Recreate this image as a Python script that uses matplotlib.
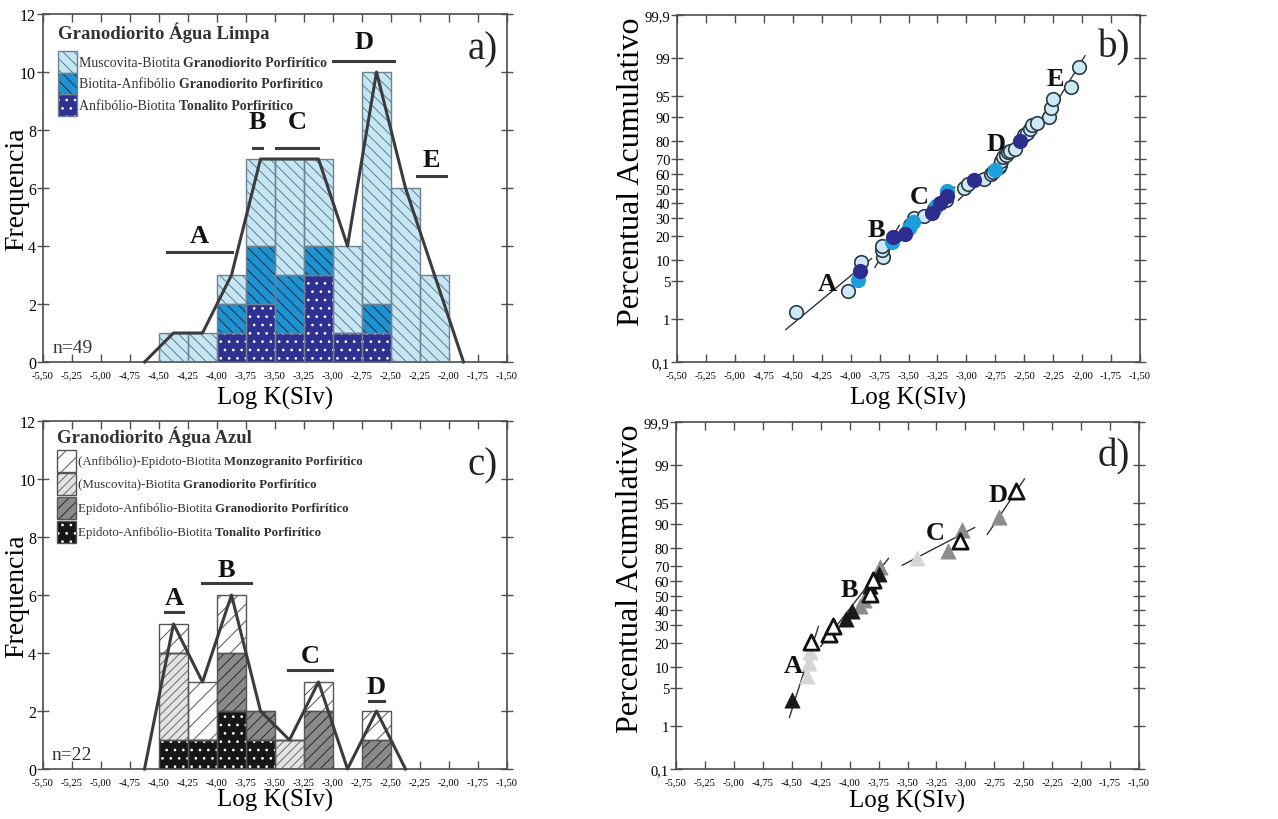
import math
import numpy as np
import matplotlib
matplotlib.use('Agg')
import matplotlib.pyplot as plt
from matplotlib.patches import Rectangle
from matplotlib.ticker import FixedLocator, NullLocator

plt.rcParams['font.family'] = ['Liberation Serif', 'DejaVu Serif']
plt.rcParams['hatch.linewidth'] = 0.7

# ---------------- data ----------------
x_ticks = [-5.50, -5.25, -5.00, -4.75, -4.50, -4.25, -4.00, -3.75, -3.50,
           -3.25, -3.00, -2.75, -2.50, -2.25, -2.00, -1.75, -1.50]
x_ticklabels = ['-5,50', '-5,25', '-5,00', '-4,75', '-4,50', '-4,25', '-4,00', '-3,75', '-3,50',
                '-3,25', '-3,00', '-2,75', '-2,50', '-2,25', '-2,00', '-1,75', '-1,50']
freq_ticks = [0, 2, 4, 6, 8, 10, 12]
prob_ticks = [0.1, 1, 5, 10, 20, 30, 40, 50, 60, 70, 80, 90, 95, 99, 99.9]
prob_ticklabels = ['0,1', '1', '5', '10', '20', '30', '40', '50', '60', '70', '80', '90', '95', '99', '99,9']

# panel a - Granodiorito Agua Limpa (bin left edges, width 0.25)
a_left = [-4.50, -4.25, -4.00, -3.75, -3.50, -3.25, -3.00, -2.75, -2.50, -2.25]
a_tonalito = [0, 0, 1, 2, 1, 3, 1, 1, 0, 0]
a_bioanf = [0, 0, 1, 2, 2, 1, 0, 1, 0, 0]
a_musc = [1, 1, 1, 3, 4, 3, 3, 8, 6, 3]
a_labels = ['Muscovita-Biotita ', 'Biotita-Anfibólio ', 'Anfibólio-Biotita ']
a_bold = ['Granodiorito Porfirítico', 'Granodiorito Porfirítico', 'Tonalito Porfirítico']

# panel c - Granodiorito Agua Azul
c_left = [-4.50, -4.25, -4.00, -3.75, -3.50, -3.25, -3.00, -2.75]
c_tonalito = [1, 1, 2, 1, 0, 0, 0, 0]
c_muscgran = [3, 0, 0, 0, 1, 0, 0, 0]
c_epigran = [0, 0, 2, 1, 0, 2, 0, 1]
c_monzo = [1, 2, 2, 0, 0, 1, 0, 1]
c_labels = ['(Anfibólio)-Epidoto-Biotita ', '(Muscovita)-Biotita ',
            'Epidoto-Anfibólio-Biotita ', 'Epidoto-Anfibólio-Biotita ']
c_bold = ['Monzogranito Porfirítico', 'Granodiorito Porfirítico',
          'Granodiorito Porfirítico', 'Tonalito Porfirítico']

# panel b - cumulative probability (group: 0 musc, 1 bio-anf, 2 tonalito)
b_x = [-4.47, -4.02, -3.94, -3.92, -3.91, -3.72, -3.73, -3.73, -3.64, -3.63,
       -3.53, -3.50, -3.49, -3.46, -3.45, -3.37, -3.30, -3.28, -3.26, -3.23,
       -3.18, -3.17, -3.17, -3.02, -2.99, -2.93, -2.85, -2.79, -2.77, -2.75,
       -2.72, -2.71, -2.70, -2.68, -2.66, -2.64, -2.62, -2.58, -2.54, -2.50,
       -2.48, -2.45, -2.43, -2.39, -2.29, -2.27, -2.25, -2.10, -2.03]
b_p = [1.4, 3.4, 5.2, 7.0, 9.5, 11.1, 13.5, 15.3, 17.0, 19.4,
       21.0, 24.0, 26.0, 27.5, 30.0, 31.0, 33.0, 36.0, 38.0, 40.0,
       42.0, 45.0, 48.0, 50.5, 53.5, 56.0, 57.0, 60.5, 61.5, 63.0,
       65.0, 66.5, 69.0, 71.0, 72.5, 74.0, 75.0, 76.0, 80.0, 83.0,
       84.0, 85.5, 87.0, 88.0, 90.0, 92.5, 94.5, 96.5, 98.5]
b_group = [0, 0, 1, 2, 0, 0, 0, 0, 1, 2,
           2, 1, 0, 1, 0, 0, 2, 0, 1, 2,
           0, 2, 1, 0, 0, 2, 0, 0, 0, 1,
           0, 0, 0, 0, 0, 0, 0, 0, 2, 0,
           0, 0, 0, 0, 0, 0, 0, 0, 0]
b_fits = [((-4.56, 0.6), (-3.82, 10.6)), ((-3.79, 8.0), (-3.58, 25.6)),
          ((-3.57, 17.3), (-3.10, 51.0)), ((-3.07, 41.7), (-2.51, 82.0)),
          ((-2.35, 86.5), (-1.975, 99.1))]

# panel d (group: 0 tonalito, 1 musc gran, 2 epi gran, 3 monzogranito)
d_x = [-4.50, -4.37, -4.35, -4.34, -4.33, -4.18, -4.14, -4.03, -3.98, -3.91, -3.88,
       -3.82, -3.82, -3.80, -3.75, -3.74, -3.42, -3.15, -3.05, -3.03, -2.71, -2.56]
d_p = [3.1, 7.7, 11.5, 15.9, 20.6, 24.8, 29.5, 34.0, 38.8, 42.8, 47.0,
       51.4, 56.4, 61.0, 65.0, 69.5, 74.6, 78.7, 83.5, 88.0, 92.0, 96.9]
d_group = [0, 1, 1, 1, 3, 3, 3, 0, 0, 2, 2, 3, 0, 3, 0, 2, 1, 2, 3, 2, 2, 3]
d_fits = [((-4.52, 1.5), (-4.27, 29.0)), ((-4.25, 18.2), (-3.665, 74.5)),
          ((-3.545, 70.5), (-2.92, 88.7)), ((-2.81, 86.2), (-2.49, 98.1))]


# ---------------- normal probability scale ----------------
_A = [-3.969683028665376e+01, 2.209460984245205e+02, -2.759285104469687e+02,
      1.383577518672690e+02, -3.066479806614716e+01, 2.506628277459239e+00]
_B = [-5.447609879822406e+01, 1.615858368580409e+02, -1.556989798598866e+02,
      6.680131188771972e+01, -1.328068155288572e+01]
_C = [-7.784894002430293e-03, -3.223964580411365e-01, -2.400758277161838e+00,
      -2.549732539343734e+00, 4.374664141464968e+00, 2.938163982698783e+00]
_D = [7.784695709041462e-03, 3.224671290700398e-01, 2.445134137142996e+00,
      3.754408661907416e+00]


def _ppf(p):
    p = np.clip(np.asarray(p, dtype=float), 1e-12, 1 - 1e-12)
    shp = p.shape
    p = np.atleast_1d(p).ravel()
    out = np.empty_like(p)
    plow = 0.02425
    lo = p < plow
    hi = p > 1 - plow
    mid = ~(lo | hi)
    if lo.any():
        q = np.sqrt(-2 * np.log(p[lo]))
        out[lo] = (((((_C[0]*q+_C[1])*q+_C[2])*q+_C[3])*q+_C[4])*q+_C[5]) / \
                  ((((_D[0]*q+_D[1])*q+_D[2])*q+_D[3])*q+1)
    if hi.any():
        q = np.sqrt(-2 * np.log(1 - p[hi]))
        out[hi] = -(((((_C[0]*q+_C[1])*q+_C[2])*q+_C[3])*q+_C[4])*q+_C[5]) / \
                  ((((_D[0]*q+_D[1])*q+_D[2])*q+_D[3])*q+1)
    if mid.any():
        q = p[mid] - 0.5
        r = q * q
        out[mid] = (((((_A[0]*r+_A[1])*r+_A[2])*r+_A[3])*r+_A[4])*r+_A[5])*q / \
                   (((((_B[0]*r+_B[1])*r+_B[2])*r+_B[3])*r+_B[4])*r+1)
    return out.reshape(shp)


_erf = np.vectorize(math.erf, otypes=[float])


def prob_fwd(pct):
    return _ppf(np.asarray(pct, dtype=float) / 100.0)


def prob_inv(z):
    z = np.asarray(z, dtype=float)
    return 50.0 * (1.0 + _erf(z / math.sqrt(2.0)))


# ---------------- figure ----------------
fig = plt.figure(figsize=(12.78, 8.20), dpi=100)
W, H = 1278.0, 820.0


def add_axes(l, t, r, b):
    return fig.add_axes([l / W, 1 - b / H, (r - l) / W, (b - t) / H])


ax_a = add_axes(43, 15, 507, 363)
ax_b = add_axes(677, 16, 1140, 363)
ax_c = add_axes(43, 422, 507, 770)
ax_d = add_axes(676, 423, 1139, 770)
for _ax in (ax_c, ax_d):
    _ax.patch.set_visible(False)

SPINE = '#4d4d4d'
LINE = '#3c3c3c'


def style_axes(ax, prob=False, xlabelpad=4):
    for s in ax.spines.values():
        s.set_color(SPINE)
        s.set_linewidth(1.2)
    ax.set_xlim(-5.5, -1.5)
    ax.set_xticks(x_ticks)
    ax.set_xticklabels(x_ticklabels, fontsize=7.6)
    ax.tick_params(axis='x', direction='in', length=6, width=1, color=SPINE,
                   top=True, bottom=True, pad=6)
    ax.tick_params(axis='y', direction='inout', length=8, width=1, color=SPINE,
                   right=True, left=True, pad=1)
    ax.set_xlabel('Log K(SIv)', fontsize=18, labelpad=xlabelpad)
    axw = ax.get_position().width * W
    if prob:
        ax.set_yscale('function', functions=(prob_fwd, prob_inv))
        ax.set_ylim(0.1, 99.9)
        ax.yaxis.set_major_locator(FixedLocator(prob_ticks))
        ax.yaxis.set_minor_locator(NullLocator())
        ax.set_yticklabels(prob_ticklabels, fontsize=10.5)
        ax.set_ylabel('Percentual Acumulativo', fontsize=23)
        ax.yaxis.set_label_coords(-31.0 / axw, 0.55)
    else:
        ax.set_ylim(0, 12)
        ax.set_yticks(freq_ticks)
        ax.set_yticklabels([str(v) for v in freq_ticks], fontsize=11.5)
        ax.set_ylabel('Frequencia', fontsize=20)
        ax.yaxis.set_label_coords(-13.5 / axw, 0.5)


def stacked(ax, left, layers, styles, outline):
    bottom = np.zeros(len(left))
    for vals, (fc, hc, hatch) in zip(layers, styles):
        vals = np.asarray(vals, dtype=float)
        ax.bar(left, vals, width=0.25, bottom=bottom, align='edge', color=fc,
               edgecolor=hc, hatch=hatch, linewidth=0, zorder=2)
        ax.bar(left, vals, width=0.25, bottom=bottom, align='edge', fill=False,
               edgecolor=outline, linewidth=1.0, zorder=3)
        bottom = bottom + vals
    return bottom


def polygon(ax, left, totals):
    centers = [l + 0.125 for l in left]
    xs = [left[0] - 0.125] + centers + [centers[-1] + 0.25]
    ys = [0] + list(totals) + [0]
    ax.plot(xs, ys, color=LINE, lw=2.2, zorder=5, clip_on=False)


def legend_block(ax, title, tx, ty, rows_y, styles, labels, bolds, fs, tfs, outline):
    ax.text(tx, ty, title, transform=ax.transAxes, fontsize=tfs, fontweight='bold',
            color='#333333', va='center', ha='left')
    pw, ph = 0.041, 0.062
    for yy, (fc, hc, hatch), lab, bd in zip(rows_y, styles, labels, bolds):
        ax.add_patch(Rectangle((tx, yy - ph / 2), pw, ph, transform=ax.transAxes,
                               facecolor=fc, edgecolor=hc, hatch=hatch, linewidth=0, zorder=6))
        ax.add_patch(Rectangle((tx, yy - ph / 2), pw, ph, transform=ax.transAxes,
                               fill=False, edgecolor=outline, linewidth=1.0, zorder=7))
        t = ax.text(tx + pw + 0.004, yy, lab, transform=ax.transAxes, fontsize=fs,
                    color='#333333', va='center', ha='left')
        ax.annotate(bd, xy=(1, 0.5), xycoords=t, fontsize=fs, fontweight='bold',
                    color='#333333', va='center', ha='left')


def group_marks(ax, segs, letters):
    for (x0, x1, y), (lx, ly, s) in zip(segs, letters):
        ax.plot([x0, x1], [y, y], color=LINE, lw=2.2, zorder=5)
        ax.text(lx, ly, s, fontsize=19, fontweight='bold', ha='center', va='center',
                color='#111111', zorder=6)


# ---- panel a ----
style_axes(ax_a, xlabelpad=5)
styles_a = [('#2e3192', 'white', '..'), ('#1d93d1', '#1b2a4a', '\\\\\\'),
            ('#c7e6f4', '#5a7f90', '\\\\\\')]
tot_a = stacked(ax_a, a_left, [a_tonalito, a_bioanf, a_musc], styles_a, '#6f8290')
polygon(ax_a, a_left, tot_a)
group_marks(ax_a,
            [(-4.43, -3.87, 3.8), (-3.69, -3.61, 7.38), (-3.49, -3.13, 7.38),
             (-3.00, -2.47, 10.39), (-2.28, -2.03, 6.41)],
            [(-4.15, 4.35, 'A'), (-3.65, 8.3, 'B'), (-3.31, 8.3, 'C'),
             (-2.735, 11.05, 'D'), (-2.155, 6.98, 'E')])
legend_block(ax_a, 'Granodiorito Água Limpa', 0.032, 0.948, [0.862, 0.800, 0.738],
             styles_a[::-1], a_labels, a_bold, 10, 13.5, '#6f8290')
ax_a.text(-1.58, 10.8, 'a)', fontsize=28, ha='right', va='center', color='#222222')
ax_a.text(-5.42, 0.5, 'n=49', fontsize=14, ha='left', va='center', color='#333333')

# ---- panel c ----
style_axes(ax_c, xlabelpad=1)
styles_c = [('#161616', 'white', '..'), ('#e3e3e3', '#6a6a6a', '////'),
            ('#8a8a8a', '#2a2a2a', '///'), ('white', '#555555', '//')]
tot_c = stacked(ax_c, c_left, [c_tonalito, c_muscgran, c_epigran, c_monzo], styles_c, '#555555')
polygon(ax_c, c_left, tot_c)
group_marks(ax_c,
            [(-4.45, -4.29, 5.43), (-4.13, -3.71, 6.4), (-3.39, -3.01, 3.42), (-2.69, -2.56, 2.35)],
            [(-4.37, 5.9, 'A'), (-3.92, 6.87, 'B'), (-3.2, 3.92, 'C'), (-2.625, 2.85, 'D')])
legend_styles_c = [styles_c[3], styles_c[1], styles_c[2], styles_c[0]]
legend_block(ax_c, 'Granodiorito Água Azul', 0.030, 0.957, [0.885, 0.819, 0.750, 0.681],
             legend_styles_c, c_labels, c_bold, 9.3, 13.5, '#555555')
ax_c.text(-1.58, 10.5, 'c)', fontsize=28, ha='right', va='center', color='#222222')
ax_c.text(-5.43, 0.5, 'n=22', fontsize=14, ha='left', va='center', color='#333333')

# ---- panel b ----
style_axes(ax_b, prob=True, xlabelpad=5)
b_colors = {0: ('#cde9f6', '#2c3a44'), 1: ('#1ba0dd', '#1ba0dd'), 2: ('#2c2d8e', '#2c2d8e')}
for (x0, p0), (x1, p1) in b_fits:
    ax_b.plot([x0, x1], [p0, p1], color='#333333', lw=1.0, zorder=2)
bx = np.asarray(b_x)
bp = np.asarray(b_p)
bg = np.asarray(b_group)
for g in [0, 1, 2]:
    m = bg == g
    fc, ec = b_colors[g]
    ax_b.scatter(bx[m], bp[m], s=95, facecolor=fc, edgecolor=ec, linewidth=1.2, zorder=3)
for lx, lp, s in [(-4.205, 4.5, 'A'), (-3.78, 23, 'B'), (-3.41, 44, 'C'),
                  (-2.74, 79, 'D'), (-2.23, 97.5, 'E')]:
    ax_b.text(lx, lp, s, fontsize=19, fontweight='bold', ha='center', va='center',
              color='#111111', zorder=6)
ax_b.text(-1.58, 99.43, 'b)', fontsize=28, ha='right', va='center', color='#222222')

# ---- panel d ----
style_axes(ax_d, prob=True, xlabelpad=2)
d_colors = {0: ('#1a1a1a', '#1a1a1a', 0.5), 1: ('#d6d6d6', '#d6d6d6', 0.5),
            2: ('#8c8c8c', '#8c8c8c', 0.5), 3: ('white', '#111111', 2.0)}
for (x0, p0), (x1, p1) in d_fits:
    ax_d.plot([x0, x1], [p0, p1], color='#333333', lw=1.0, zorder=2)
dx = np.asarray(d_x)
dp = np.asarray(d_p)
dg = np.asarray(d_group)
for g in [1, 2, 0, 3]:
    m = dg == g
    fc, ec, lw = d_colors[g]
    ax_d.scatter(dx[m], dp[m], s=120, marker='^', facecolor=fc, edgecolor=ec,
                 linewidth=lw, zorder=3)
for lx, lp, s in [(-4.49, 10.5, 'A'), (-4.0, 54.5, 'B'), (-3.257, 87, 'C'), (-2.72, 96.4, 'D')]:
    ax_d.text(lx, lp, s, fontsize=19, fontweight='bold', ha='center', va='center',
              color='#111111', zorder=6)
ax_d.text(-1.58, 99.36, 'd)', fontsize=28, ha='right', va='center', color='#222222')

fig.savefig('out.png', dpi=100)
